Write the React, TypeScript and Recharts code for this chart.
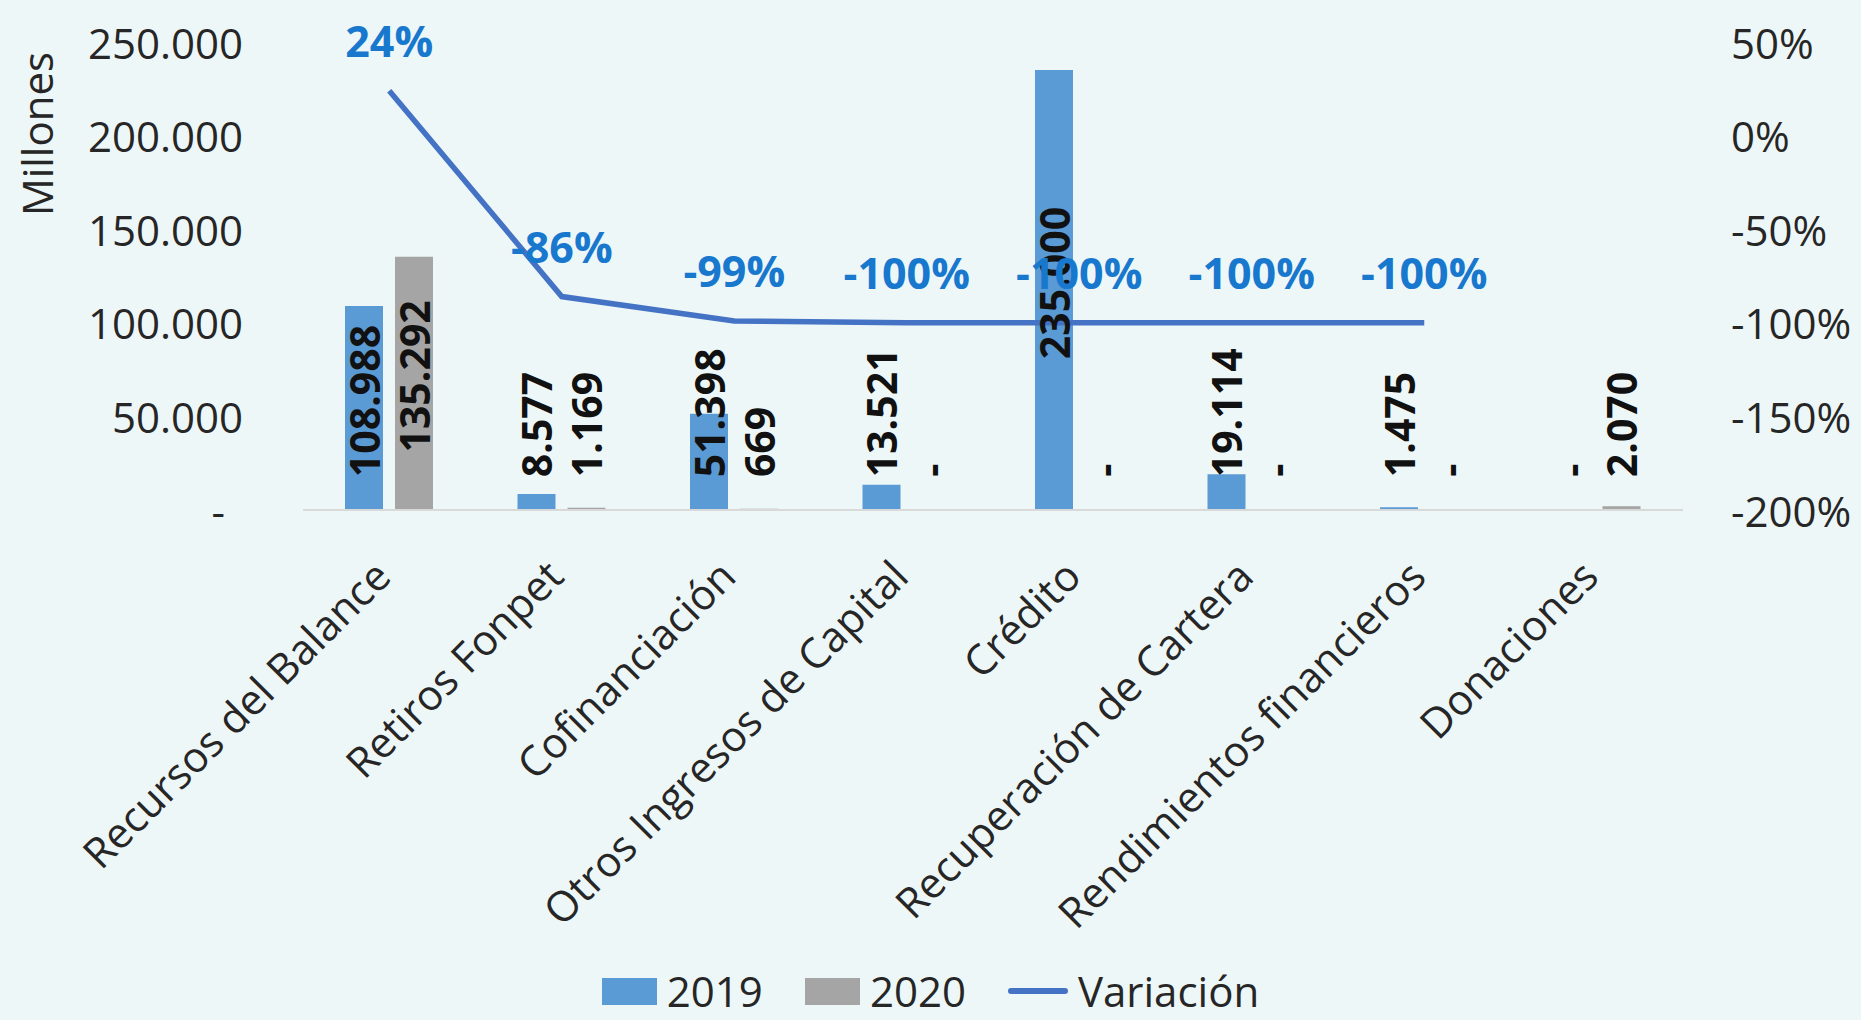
import React from 'react';
import {
  Bar,
  Cell,
  ComposedChart,
  LabelList,
  Legend,
  Line,
  XAxis,
  YAxis,
} from 'recharts';

const CATEGORIES = [
  'Recursos del Balance',
  'Retiros Fonpet',
  'Cofinanciación',
  'Otros Ingresos de Capital',
  'Crédito',
  'Recuperación de Cartera',
  'Rendimientos financieros',
  'Donaciones',
];
const V2019 = [108988, 8577, 51398, 13521, 235000, 19114, 1475, 0];
const V2020 = [135292, 1169, 669, 0, 0, 0, 0, 2070];
const VARIACION = [0.24, -0.86, -0.99, -1, -1, -1, -1, null];
const LEFT_TICKS = [0, 50000, 100000, 150000, 200000, 250000];
const RIGHT_TICKS = [-2, -1.5, -1, -0.5, 0, 0.5];

const BG = '#EEF7F8';
const BLUE = '#5B9BD5';
const GRAY = '#A5A5A5';
const LINE = '#4472C4';
const PCT = '#1878CE';
const INK = '#262626';
const FONT = '"Open Sans", sans-serif';
const FS = 42;

const rows = CATEGORIES.map((cat, i) => ({
  cat,
  v2019: V2019[i],
  v2020: V2020[i],
  variacion: VARIACION[i],
}));

const thousands = (n: number) => String(n).replace(/\B(?=(\d{3})+(?!\d))/g, '.');

// rough text length for the bold value labels (Open Sans Bold widths)
const textLen = (s: string, fs: number) =>
  s.split('').reduce((acc, ch) => acc + (ch === '.' ? 0.28 : ch === '-' ? 0.33 : 0.57), 0) * fs;

function BarValue(props: any) {
  const { x, y, width, height, value } = props;
  if (x == null || y == null) return null;
  const text = value ? thousands(value) : '-';
  const fs = 41;
  const cx = x + width / 2;
  const floor = y + height - 33;
  const len = textLen(text, fs);
  const mid = Math.min(y + height / 2 - 7, floor - len / 2);
  return (
    <text
      x={cx}
      y={mid}
      transform={`rotate(-90 ${cx} ${mid})`}
      textAnchor="middle"
      dominantBaseline="central"
      fontSize={fs}
      fontWeight={700}
      fill="#111"
      fontFamily={FONT}
    >
      {text}
    </text>
  );
}

function PctLabel(props: any) {
  const { x, y, value } = props;
  if (value == null || x == null) return null;
  return (
    <text
      x={x}
      y={y - 50}
      textAnchor="middle"
      dominantBaseline="central"
      fontSize={43}
      fontWeight={700}
      fill={PCT}
      fontFamily={FONT}
    >
      {`${Math.round(value * 100)}%`}
    </text>
  );
}

function CatTick(props: any) {
  const { x, y, payload } = props;
  const ax = x + 4;
  const ay = y + 69;
  return (
    <text
      x={ax}
      y={ay}
      transform={`rotate(-45 ${ax} ${ay})`}
      textAnchor="end"
      fontSize={FS}
      fill={INK}
      fontFamily={FONT}
    >
      {payload.value}
    </text>
  );
}

function LeftTick(props: any) {
  const { x, y, payload } = props;
  const zero = payload.value === 0;
  return (
    <text
      x={zero ? x - 18 : x}
      y={y}
      textAnchor="end"
      dominantBaseline="central"
      fontSize={FS}
      fill={INK}
      fontFamily={FONT}
    >
      {zero ? '-' : thousands(payload.value)}
    </text>
  );
}

function RightTick(props: any) {
  const { x, y, payload } = props;
  return (
    <text
      x={x}
      y={y}
      textAnchor="start"
      dominantBaseline="central"
      fontSize={FS}
      fill={INK}
      fontFamily={FONT}
    >
      {`${Math.round(payload.value * 100)}%`}
    </text>
  );
}

function AxisTitle(props: any) {
  const { viewBox } = props;
  const lx = viewBox.x + 36;
  const ly = viewBox.y + 92;
  return (
    <text
      x={lx}
      y={ly}
      transform={`rotate(-90 ${lx} ${ly})`}
      textAnchor="middle"
      dominantBaseline="central"
      fontSize={FS}
      fill={INK}
      fontFamily={FONT}
    >
      Millones
    </text>
  );
}

function LegendContent(props: any) {
  const items = props.payload || [];
  return (
    <div
      style={{
        height: 50,
        display: 'flex',
        justifyContent: 'center',
        alignItems: 'center',
        boxSizing: 'border-box',
        fontFamily: FONT,
        fontSize: FS,
        color: INK,
        gap: 42,
      }}
    >
      {items.map((it: any) => (
        <div key={it.value} style={{ display: 'flex', alignItems: 'center' }}>
          {it.type === 'line' || it.type === 'plainline' ? (
            <div style={{ width: 60, height: 6, background: it.color, borderRadius: 3 }} />
          ) : (
            <div style={{ width: 55, height: 27, background: it.color }} />
          )}
          <span style={{ marginLeft: 10, lineHeight: 1 }}>{it.value}</span>
        </div>
      ))}
    </div>
  );
}

export default function App() {
  return (
    <div style={{ width: 1861, height: 1020, background: BG, fontFamily: FONT, overflow: 'hidden' }}>
      <style>{'body{margin:0}'}</style>
      <ComposedChart
        width={1861}
        height={1020}
        data={rows}
        margin={{ top: 42, right: 0, left: 0, bottom: 0 }}
        barGap={12}
        barSize={38}
      >
        <XAxis
          dataKey="cat"
          height={460}
          interval={0}
          tick={<CatTick />}
          tickLine={false}
          tickSize={0}
          tickMargin={0}
          axisLine={{ stroke: '#D9D9D9', strokeWidth: 2 }}
        />
        <YAxis
          yAxisId="left"
          width={303}
          domain={[0, 250000]}
          ticks={LEFT_TICKS}
          axisLine={false}
          tickLine={false}
          tickSize={0}
          tickMargin={60}
          tick={<LeftTick />}
          label={<AxisTitle />}
        />
        <YAxis
          yAxisId="right"
          orientation="right"
          width={178}
          domain={[-2, 0.5]}
          ticks={RIGHT_TICKS}
          axisLine={false}
          tickLine={false}
          tickSize={0}
          tickMargin={48}
          tick={<RightTick />}
        />
        <Bar
          yAxisId="left"
          dataKey="v2019"
          name="2019"
          fill={BLUE}
          minPointSize={1}
          isAnimationActive={false}
        >
          {V2019.map((v, i) => (
            <Cell key={i} fill={v ? BLUE : 'transparent'} />
          ))}
          <LabelList dataKey="v2019" content={<BarValue />} />
        </Bar>
        <Bar
          yAxisId="left"
          dataKey="v2020"
          name="2020"
          fill={GRAY}
          minPointSize={1}
          isAnimationActive={false}
        >
          {V2020.map((v, i) => (
            <Cell key={i} fill={v ? GRAY : 'transparent'} />
          ))}
          <LabelList dataKey="v2020" content={<BarValue />} />
        </Bar>
        <Line
          yAxisId="right"
          dataKey="variacion"
          name="Variación"
          type="linear"
          stroke={LINE}
          strokeWidth={5.5}
          dot={false}
          legendType="plainline"
          isAnimationActive={false}
        >
          <LabelList dataKey="variacion" content={<PctLabel />} />
        </Line>
        <Legend verticalAlign="bottom" wrapperStyle={{ bottom: 4 }} content={<LegendContent />} />
      </ComposedChart>
    </div>
  );
}
